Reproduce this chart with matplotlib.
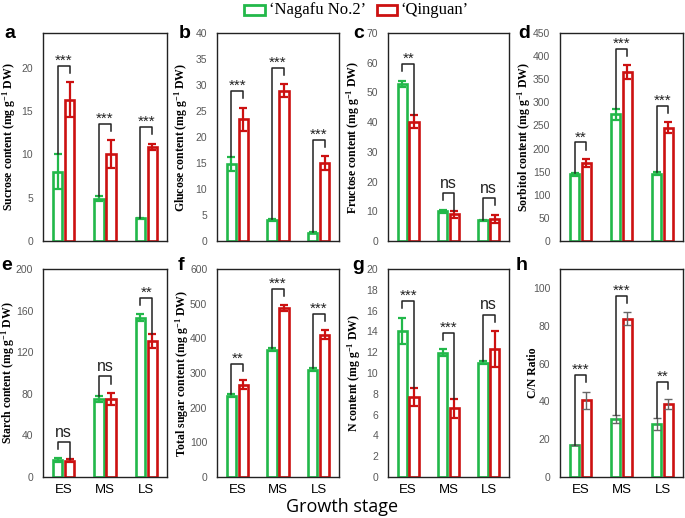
import numpy as np
import matplotlib
matplotlib.use('Agg')
import matplotlib.pyplot as plt
from matplotlib.patches import Rectangle

plt.rcParams['mathtext.fontset'] = 'custom'
plt.rcParams['mathtext.rm'] = 'Liberation Serif:bold'
plt.rcParams['mathtext.it'] = 'Liberation Serif:bold'
plt.rcParams['mathtext.bf'] = 'Liberation Serif:bold'

stages = ['ES', 'MS', 'LS']

sucrose_nag = [8.0, 4.9, 2.6]
sucrose_nag_err = [2.0, 0.3, 0.05]
sucrose_qin = [16.3, 10.0, 10.9]
sucrose_qin_err = [2.0, 1.6, 0.35]
sucrose_sig = ['***', '***', '***']

glucose_nag = [14.9, 4.0, 1.6]
glucose_nag_err = [1.35, 0.2, 0.1]
glucose_qin = [23.4, 28.9, 15.0]
glucose_qin_err = [2.25, 1.25, 1.3]
glucose_sig = ['***', '***', '***']

fructose_nag = [52.9, 10.0, 7.0]
fructose_nag_err = [1.1, 0.5, 0.2]
fructose_qin = [40.2, 9.0, 7.5]
fructose_qin_err = [2.25, 1.2, 1.3]
fructose_sig = ['**', 'ns', 'ns']

sorbitol_nag = [144, 274, 146]
sorbitol_nag_err = [4, 12, 4]
sorbitol_qin = [169, 365, 245]
sorbitol_qin_err = [8.7, 15, 12]
sorbitol_sig = ['**', '***', '***']

starch_nag = [16.0, 74.9, 153.3]
starch_nag_err = [2.0, 3.0, 3.2]
starch_qin = [15.7, 75.2, 130.9]
starch_qin_err = [1.5, 5.6, 6.4]
starch_sig = ['ns', 'ns', '**']

total_nag = [235, 367, 309]
total_nag_err = [5, 4, 4]
total_qin = [266, 487, 410]
total_qin_err = [12.5, 8, 13]
total_sig = ['**', '***', '***']

n_nag = [14.05, 11.97, 11.0]
n_nag_err = [1.28, 0.32, 0.15]
n_qin = [7.7, 6.62, 12.32]
n_qin_err = [0.85, 0.9, 1.7]
n_sig = ['***', '***', 'ns']

cn_nag = [16.8, 30.7, 28.0]
cn_nag_err = [0.0, 2.0, 3.0]
cn_qin = [40.6, 83.8, 38.8]
cn_qin_err = [4.5, 3.3, 2.6]
cn_sig = ['***', '***', '**']

GREEN = '#22b84a'
RED = '#cc1111'
TICK_GRAY = '#595959'

panels = [
    ('a', 'Sucrose content (mg g$^{-1}$ DW)', sucrose_nag, sucrose_nag_err, sucrose_qin, sucrose_qin_err, sucrose_sig, (0, 24), np.arange(0, 21, 5)),
    ('b', 'Glucose content (mg g$^{-1}$ DW)', glucose_nag, glucose_nag_err, glucose_qin, glucose_qin_err, glucose_sig, (0, 40), np.arange(0, 41, 5)),
    ('c', 'Fructose content (mg g$^{-1}$ DW)', fructose_nag, fructose_nag_err, fructose_qin, fructose_qin_err, fructose_sig, (0, 70), np.arange(0, 71, 10)),
    ('d', 'Sorbitol content (mg g$^{-1}$ DW)', sorbitol_nag, sorbitol_nag_err, sorbitol_qin, sorbitol_qin_err, sorbitol_sig, (0, 450), np.arange(0, 451, 50)),
    ('e', 'Starch content (mg g$^{-1}$ DW)', starch_nag, starch_nag_err, starch_qin, starch_qin_err, starch_sig, (0, 200), np.arange(0, 201, 40)),
    ('f', 'Total sugar content (mg g$^{-1}$ DW)', total_nag, total_nag_err, total_qin, total_qin_err, total_sig, (0, 600), np.arange(0, 601, 100)),
    ('g', 'N content (mg g$^{-1}$ DW)', n_nag, n_nag_err, n_qin, n_qin_err, n_sig, (0, 20), np.arange(0, 21, 2)),
    ('h', 'C/N Ratio', cn_nag, cn_nag_err, cn_qin, cn_qin_err, cn_sig, (0, 110), np.arange(0, 101, 20)),
]

W, H = 685, 518
fig = plt.figure(figsize=(W / 100, H / 100), dpi=100)

lefts = [43, 217, 388, 560]
widths = [124, 122, 121, 123]
tops = [33, 269]
ax_h = 208
# pixel x of the y-label's right edge, and panel letter centre (top row, bottom row)
label_x = [[18, 190, 362, 533], [17, 191, 363, 539]]
letter_x = [[10, 185, 359, 524], [7, 181, 358, 522]]
letter_y = [34, 265]

for i, (letter, ylab, g, ge, r, re_, sig, ylim, yt) in enumerate(panels):
    row, col = divmod(i, 4)
    ax = fig.add_axes([lefts[col] / W, 1 - (tops[row] + ax_h) / H, widths[col] / W, ax_h / H])
    x = np.arange(3)
    off = 0.145
    bw = 0.23
    is_h = letter == 'h'
    ecol_g = '#666666' if is_h else GREEN
    ecol_r = '#666666' if is_h else RED
    elw = 1.0 if is_h else 1.6
    ax.bar(x - off, g, bw, facecolor='white', edgecolor=GREEN, linewidth=1.9, zorder=2)
    ax.bar(x + off, r, bw, facecolor='white', edgecolor=RED, linewidth=1.9, zorder=2)
    ax.errorbar(x - off, g, yerr=ge, fmt='none', ecolor=ecol_g, elinewidth=elw, capsize=3, capthick=elw, zorder=3)
    ax.errorbar(x + off, r, yerr=re_, fmt='none', ecolor=ecol_r, elinewidth=elw, capsize=3, capthick=elw, zorder=3)

    span = ylim[1] - ylim[0]
    for k in range(3):
        tg = g[k] + ge[k]
        tr = r[k] + re_[k]
        top = max(tg, tr)
        yb = top + 0.08 * span
        bg = tg if tg < top else top + 0.045 * span
        br = tr if tr < top else top + 0.045 * span
        ax.plot([x[k] - off, x[k] - off, x[k] + off, x[k] + off], [bg, yb, yb, br],
                color='#222222', lw=1.1, zorder=4)
        if sig[k] == 'ns':
            ax.text(x[k], yb + 0.01 * span, 'ns', ha='center', va='bottom', fontsize=11.5,
                    family='Liberation Sans', color='#222222')
        else:
            ax.text(x[k], yb - 0.01 * span, sig[k], ha='center', va='bottom', fontsize=11,
                    family='Liberation Sans', color='#222222')

    ax.set_xlim(-0.5, 2.5)
    ax.set_ylim(*ylim)
    ax.set_yticks(yt)
    ax.tick_params(axis='y', length=0, labelsize=7.5, labelcolor=TICK_GRAY, pad=7)
    ax.tick_params(axis='x', length=0)
    if row == 1:
        ax.set_xticks(x)
        ax.set_xticklabels(stages, fontsize=9.5, family='Liberation Sans')
        ax.tick_params(axis='x', pad=5)
    else:
        ax.set_xticks([])
    for lab in ax.get_yticklabels():
        lab.set_family('Liberation Sans')
    for s in ax.spines.values():
        s.set_linewidth(1.0)
        s.set_color('#222222')
    ax.set_ylabel(ylab, family='Liberation Serif', fontweight='bold', fontsize=8.5)
    ax.yaxis.set_label_coords((label_x[row][col] - lefts[col]) / widths[col], 0.5)
    fig.text(letter_x[row][col] / W, 1 - letter_y[row] / H, letter, fontsize=14, fontweight='bold',
             family='Liberation Sans', ha='center', va='center')

# legend
fig.patches.append(Rectangle((244 / W, 1 - 15 / H), 21 / W, 10 / H, transform=fig.transFigure,
                             facecolor='white', edgecolor=GREEN, linewidth=2))
fig.text(269 / W, 1 - 10 / H, '\u2018Nagafu No.2\u2019', family='Liberation Serif', fontsize=12, va='center', ha='left')
fig.patches.append(Rectangle((377 / W, 1 - 15 / H), 20 / W, 10 / H, transform=fig.transFigure,
                             facecolor='white', edgecolor=RED, linewidth=2))
fig.text(400 / W, 1 - 10 / H, '\u2018Qinguan\u2019', family='Liberation Serif', fontsize=12, va='center', ha='left')

fig.text(342 / W, 1 - 507 / H, 'Growth stage', family='Open Sans', fontsize=13, ha='center', va='center')

fig.savefig('out.png', dpi=100)
